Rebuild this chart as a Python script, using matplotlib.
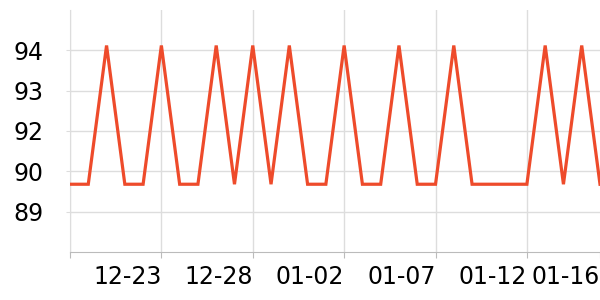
import matplotlib
matplotlib.use('Agg')
import matplotlib.pyplot as plt

# Daily values, 12-18 .. 01-16
DATES = ["12-18", "12-19", "12-20", "12-21", "12-22", "12-23", "12-24", "12-25",
         "12-26", "12-27", "12-28", "12-29", "12-30", "12-31", "01-01", "01-02",
         "01-03", "01-04", "01-05", "01-06", "01-07", "01-08", "01-09", "01-10",
         "01-11", "01-12", "01-13", "01-14", "01-15", "01-16"]
VALUES = [89.85, 89.85, 94.15, 89.85, 89.85, 94.15, 89.85, 89.85,
          94.15, 89.85, 94.15, 89.85, 94.15, 89.85, 89.85, 94.15,
          89.85, 89.85, 94.15, 89.85, 89.85, 94.15, 89.85, 89.85,
          89.85, 89.85, 94.15, 89.85, 94.15, 89.85]

X_TICK_DATES = ["12-18", "12-23", "12-28", "01-02", "01-07", "01-12", "01-16"]
Y_TICKS = [89.0, 90.25, 91.5, 92.75, 94.0]
Y_RANGE = (87.75, 95.25)

LINE = "#EE4B2B"
GRID = "#DDDDDD"
AXIS = "#BBBBBB"

fig = plt.figure(figsize=(6, 3), dpi=100)
ax = fig.add_axes([70 / 600, 48 / 300, 530 / 600, 242 / 300])

xs = list(range(len(DATES)))
ax.plot(xs, VALUES, color=LINE, linewidth=2.3, solid_joinstyle='miter', zorder=3)

ax.set_xlim(0, len(DATES) - 1)
ax.set_ylim(*Y_RANGE)

xt = [DATES.index(d) for d in X_TICK_DATES]
ax.set_xticks(xt)
ax.set_xticklabels([""] + X_TICK_DATES[1:], ha='right', fontsize=17)
ax.set_yticks(Y_TICKS)
ax.set_yticklabels([f"{v:.0f}" for v in Y_TICKS], fontsize=17)

ax.grid(True, color=GRID, linewidth=1)
ax.get_xgridlines()[-1].set_visible(False)
ax.set_axisbelow(True)
for s in ['top', 'right']:
    ax.spines[s].set_visible(False)
ax.spines['left'].set_color(GRID)
ax.spines['bottom'].set_color(AXIS)
ax.tick_params(axis='x', colors=AXIS, labelcolor='black', length=4, pad=5)
ax.tick_params(axis='y', colors=GRID, labelcolor='black', length=3, pad=16)

fig.savefig('out.png', dpi=100)
